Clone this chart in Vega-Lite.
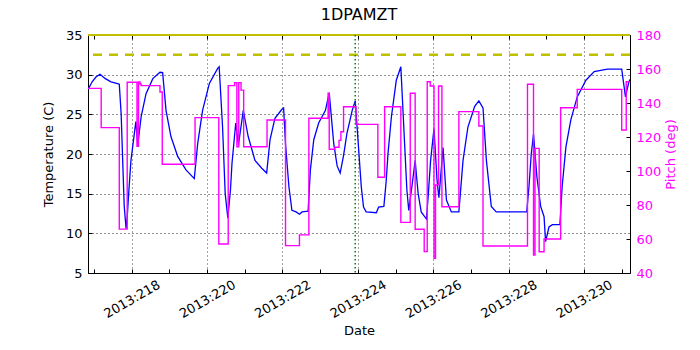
{
  "$schema": "https://vega.github.io/schema/vega-lite/v6.json",
  "width": 542,
  "height": 238,
  "autosize": {"type": "none"},
  "padding": {"left": 88, "top": 35, "right": 70, "bottom": 77},
  "title": {"text": "1DPAMZT", "fontSize": 16, "fontWeight": "normal", "font": "DejaVu Sans", "color": "black", "offset": 6},
  "config": {
    "font": "DejaVu Sans",
    "view": {"stroke": "black", "strokeWidth": 1},
    "axis": {
      "domain": false,
      "tickColor": "black",
      "tickSize": -4,
      "tickCount": 40,
      "labelFont": "DejaVu Sans",
      "labelFontSize": 13,
      "labelColor": "black",
      "labelOverlap": false,
      "titleFont": "DejaVu Sans",
      "titleFontSize": 13,
      "titleFontWeight": "normal",
      "titleColor": "black",
      "gridColor": "black",
      "gridDash": [1, 3],
      "gridWidth": 1,
      "gridOpacity": 0.85
    }
  },
  "datasets": {
    "temp": [
      {"day": 216.8, "temp": 28.0},
      {"day": 216.86, "temp": 28.3},
      {"day": 216.95, "temp": 29.1},
      {"day": 217.05, "temp": 29.7},
      {"day": 217.16, "temp": 30.05},
      {"day": 217.3, "temp": 29.5},
      {"day": 217.45, "temp": 29.1},
      {"day": 217.6, "temp": 28.9},
      {"day": 217.67, "temp": 28.8},
      {"day": 217.72, "temp": 25.0},
      {"day": 217.76, "temp": 19.2},
      {"day": 217.8, "temp": 13.5},
      {"day": 217.85, "temp": 10.6},
      {"day": 217.88, "temp": 12.0},
      {"day": 217.92, "temp": 15.1},
      {"day": 217.98, "temp": 19.2},
      {"day": 218.07, "temp": 22.6},
      {"day": 218.11, "temp": 24.1},
      {"day": 218.16, "temp": 21.1},
      {"day": 218.25, "temp": 24.7},
      {"day": 218.38, "temp": 27.6},
      {"day": 218.56, "temp": 29.5},
      {"day": 218.75, "temp": 30.3},
      {"day": 218.82, "temp": 30.25},
      {"day": 218.91, "temp": 25.5},
      {"day": 219.04, "temp": 22.2},
      {"day": 219.22, "temp": 19.7},
      {"day": 219.44, "temp": 18.0},
      {"day": 219.66, "temp": 16.9},
      {"day": 219.75, "temp": 21.3},
      {"day": 219.88, "temp": 25.5},
      {"day": 220.06, "temp": 28.9},
      {"day": 220.28, "temp": 30.8},
      {"day": 220.32, "temp": 31.0},
      {"day": 220.41, "temp": 23.4},
      {"day": 220.48, "temp": 15.0},
      {"day": 220.55, "temp": 11.9},
      {"day": 220.62, "temp": 15.5},
      {"day": 220.66, "temp": 18.8},
      {"day": 220.76, "temp": 23.9},
      {"day": 220.83, "temp": 21.1},
      {"day": 220.96, "temp": 25.5},
      {"day": 221.09, "temp": 22.2},
      {"day": 221.27, "temp": 19.2},
      {"day": 221.45, "temp": 18.2},
      {"day": 221.58, "temp": 17.6},
      {"day": 221.67, "temp": 21.8},
      {"day": 221.8, "temp": 24.5},
      {"day": 221.98, "temp": 25.6},
      {"day": 222.03, "temp": 25.8},
      {"day": 222.08, "temp": 21.3},
      {"day": 222.17, "temp": 15.9},
      {"day": 222.25, "temp": 12.9},
      {"day": 222.36, "temp": 12.7},
      {"day": 222.45, "temp": 12.4},
      {"day": 222.52, "temp": 12.7},
      {"day": 222.68, "temp": 12.8},
      {"day": 222.74, "temp": 18.0},
      {"day": 222.83, "temp": 21.8},
      {"day": 222.96, "temp": 23.9},
      {"day": 223.14, "temp": 25.5},
      {"day": 223.24, "temp": 27.7},
      {"day": 223.36, "temp": 21.3},
      {"day": 223.45, "temp": 18.5},
      {"day": 223.53, "temp": 17.6},
      {"day": 223.62, "temp": 19.8},
      {"day": 223.71, "temp": 22.6},
      {"day": 223.85, "temp": 25.5},
      {"day": 223.93, "temp": 26.7},
      {"day": 224.0, "temp": 22.0},
      {"day": 224.09, "temp": 15.9},
      {"day": 224.15, "temp": 13.3},
      {"day": 224.22, "temp": 12.7},
      {"day": 224.49, "temp": 12.6},
      {"day": 224.55, "temp": 13.3},
      {"day": 224.69, "temp": 13.4},
      {"day": 224.75, "temp": 16.5},
      {"day": 224.8, "temp": 20.1},
      {"day": 224.89, "temp": 24.7},
      {"day": 225.02, "temp": 29.3},
      {"day": 225.14, "temp": 31.0},
      {"day": 225.24, "temp": 21.3},
      {"day": 225.3, "temp": 15.5},
      {"day": 225.35, "temp": 12.9},
      {"day": 225.45, "temp": 16.5},
      {"day": 225.52, "temp": 19.2},
      {"day": 225.56, "temp": 17.0},
      {"day": 225.6, "temp": 15.0},
      {"day": 225.68, "temp": 12.7},
      {"day": 225.82, "temp": 11.8},
      {"day": 225.87, "temp": 15.0},
      {"day": 225.93, "temp": 19.2},
      {"day": 226.02, "temp": 23.2},
      {"day": 226.1, "temp": 16.7},
      {"day": 226.15, "temp": 14.5},
      {"day": 226.26, "temp": 20.8},
      {"day": 226.35, "temp": 14.2},
      {"day": 226.48, "temp": 12.7},
      {"day": 226.68, "temp": 12.7},
      {"day": 226.79, "temp": 19.2},
      {"day": 226.92, "temp": 23.4},
      {"day": 227.1, "temp": 26.0},
      {"day": 227.21, "temp": 26.7},
      {"day": 227.32, "temp": 25.8},
      {"day": 227.41, "temp": 19.2},
      {"day": 227.54, "temp": 13.4},
      {"day": 227.67, "temp": 12.7},
      {"day": 228.48, "temp": 12.7},
      {"day": 228.54, "temp": 15.9},
      {"day": 228.6, "temp": 20.0},
      {"day": 228.66, "temp": 22.5},
      {"day": 228.75, "temp": 17.1},
      {"day": 228.85, "temp": 13.4},
      {"day": 228.94, "temp": 12.1},
      {"day": 228.98, "temp": 8.95},
      {"day": 229.07, "temp": 10.8},
      {"day": 229.16, "temp": 11.1},
      {"day": 229.36, "temp": 11.1},
      {"day": 229.42, "temp": 15.9},
      {"day": 229.52, "temp": 20.9},
      {"day": 229.65, "temp": 24.3},
      {"day": 229.82, "temp": 27.2},
      {"day": 230.05, "temp": 29.3},
      {"day": 230.27, "temp": 30.4},
      {"day": 230.62, "temp": 30.7},
      {"day": 231.0, "temp": 30.7},
      {"day": 231.1, "temp": 27.2},
      {"day": 231.19, "temp": 29.1},
      {"day": 231.3, "temp": 30.0}
    ],
    "pitch": [
      {"day": 216.8, "pitch": 148.6},
      {"day": 217.19, "pitch": 125.5},
      {"day": 217.67, "pitch": 65.8},
      {"day": 217.88, "pitch": 152.2},
      {"day": 218.14, "pitch": 114.5},
      {"day": 218.18, "pitch": 152.4},
      {"day": 218.22, "pitch": 151.2},
      {"day": 218.25, "pitch": 150.2},
      {"day": 218.75, "pitch": 146.5},
      {"day": 218.81, "pitch": 104.0},
      {"day": 219.68, "pitch": 131.4},
      {"day": 220.31, "pitch": 57.1},
      {"day": 220.56, "pitch": 150.2},
      {"day": 220.73, "pitch": 152.0},
      {"day": 220.79, "pitch": 114.3},
      {"day": 220.84, "pitch": 152.0},
      {"day": 220.9, "pitch": 147.6},
      {"day": 220.97, "pitch": 114.3},
      {"day": 221.59, "pitch": 130.0},
      {"day": 222.08, "pitch": 56.1},
      {"day": 222.45, "pitch": 62.4},
      {"day": 222.7, "pitch": 131.0},
      {"day": 223.21, "pitch": 145.7},
      {"day": 223.24, "pitch": 112.8},
      {"day": 223.39, "pitch": 114.0},
      {"day": 223.5, "pitch": 118.0},
      {"day": 223.55, "pitch": 123.1},
      {"day": 223.62, "pitch": 137.8},
      {"day": 223.95, "pitch": 127.4},
      {"day": 224.53, "pitch": 96.3},
      {"day": 224.71, "pitch": 137.8},
      {"day": 225.14, "pitch": 69.8},
      {"day": 225.39, "pitch": 145.7},
      {"day": 225.52, "pitch": 65.7},
      {"day": 225.76, "pitch": 52.6},
      {"day": 225.84, "pitch": 152.5},
      {"day": 225.92, "pitch": 150.0},
      {"day": 226.02, "pitch": 48.6},
      {"day": 226.06, "pitch": 91.8},
      {"day": 226.14, "pitch": 150.0},
      {"day": 226.23, "pitch": 79.0},
      {"day": 226.68, "pitch": 134.9},
      {"day": 227.21, "pitch": 126.5},
      {"day": 227.32, "pitch": 55.9},
      {"day": 228.5, "pitch": 151.0},
      {"day": 228.66, "pitch": 50.6},
      {"day": 228.7, "pitch": 113.3},
      {"day": 228.81, "pitch": 52.5},
      {"day": 228.94, "pitch": 60.0},
      {"day": 229.38, "pitch": 137.2},
      {"day": 229.82, "pitch": 148.0},
      {"day": 231.0, "pitch": 124.1},
      {"day": 231.12, "pitch": 152.5},
      {"day": 231.3, "pitch": 152.5}
    ]
  },
  "layer": [
    {
      "layer": [
        {
          "data": {"name": "temp"},
          "mark": {"type": "line", "color": "#0000ff", "strokeWidth": 1.3, "clip": true},
          "encoding": {
            "x": {
              "field": "day", "type": "quantitative",
              "scale": {"domain": [216.84, 231.22], "nice": false, "zero": false},
              "axis": {
                "title": "Date",
                "tickCount": 40,
                "values": [217, 218, 219, 220, 221, 222, 223, 224, 225, 226, 227, 228, 229, 230, 231],
                "labelExpr": "datum.value % 2 == 0 ? '2013:' + datum.value : ''",
                "labelAngle": -30,
                "labelAlign": "center",
                "labelBaseline": "middle",
                "labelPadding": 30,
                "labelFlush": false,
                "grid": true,
                "gridOpacity": {"condition": {"test": "datum.value % 2 == 0", "value": 0.85}, "value": 0},
                "titlePadding": 4
              }
            },
            "y": {
              "field": "temp", "type": "quantitative",
              "scale": {"domain": [5, 35], "nice": false, "zero": false},
              "axis": {
                "title": "Temperature (C)",
                "tickCount": 40,
                "values": [5, 10, 15, 20, 25, 30, 35],
                "labelPadding": 10,
                "titlePadding": 10,
                "grid": true
              }
            }
          }
        },
        {
          "data": {"values": [{"temp": 32.5}]},
          "mark": {"type": "rule", "color": "#bfbf00", "strokeWidth": 2.5, "strokeDash": [9, 7]},
          "encoding": {"y": {"field": "temp", "type": "quantitative"}}
        },
        {
          "data": {"values": [{"temp": 35}]},
          "mark": {"type": "rule", "color": "#bfbf00", "strokeWidth": 2},
          "encoding": {"y": {"field": "temp", "type": "quantitative"}}
        },
        {
          "data": {"values": [{"day": 223.93}]},
          "mark": {"type": "rule", "color": "#008000", "strokeWidth": 1.5, "strokeDash": [1.5, 2.5]},
          "encoding": {"x": {"field": "day", "type": "quantitative"}}
        }
      ]
    },
    {
      "data": {"name": "pitch"},
      "mark": {"type": "line", "interpolate": "step-after", "color": "#ff00ff", "strokeWidth": 1.4, "clip": true},
      "encoding": {
        "x": {
          "field": "day", "type": "quantitative",
          "axis": {
            "orient": "top",
            "title": null,
            "labels": false,
            "grid": false,
            "tickCount": 40,
            "values": [217, 218, 219, 220, 221, 222, 223, 224, 225, 226, 227, 228, 229, 230, 231]
          }
        },
        "y": {
          "field": "pitch", "type": "quantitative",
          "scale": {"domain": [40, 180], "nice": false, "zero": false},
          "axis": {
            "orient": "right",
            "title": "Pitch (deg)",
            "titleColor": "#ff00ff",
            "labelColor": "#ff00ff",
            "titleAngle": -90,
            "tickCount": 40,
            "values": [40, 60, 80, 100, 120, 140, 160, 180],
            "labelPadding": 10,
            "titlePadding": 17,
            "grid": false
          }
        }
      }
    }
  ],
  "resolve": {"scale": {"y": "independent"}, "axis": {"x": "independent"}}
}
